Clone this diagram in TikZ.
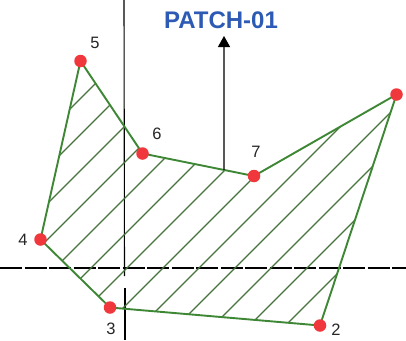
\documentclass[tikz,border=0pt]{standalone}
\usepackage{fontspec}
\setmainfont{Liberation Sans}
\usetikzlibrary{arrows.meta,calc}
\definecolor{edgegreen}{RGB}{62,135,52}
\definecolor{hatchgreen}{RGB}{70,115,60}
\definecolor{dotred}{RGB}{240,55,60}
\definecolor{titleblue}{RGB}{45,90,180}
\begin{document}
\begin{tikzpicture}[x=1pt,y=-1pt,
  vertex/.style={circle,fill=dotred,inner sep=0pt,minimum size=12.5pt},
  edge/.style={draw=edgegreen,line width=1.9pt,line join=round},
  hatch/.style={draw=hatchgreen,line width=1.1pt},
  axis/.style={draw=black,line width=1.1pt},
  num/.style={font=\fontsize{16.5}{16.5}\selectfont,text=black!85,inner sep=0pt},
  title/.style={font=\fontsize{24}{24}\selectfont\bfseries,text=titleblue,inner sep=0pt}]
\useasboundingbox[fill=white] (0,0) rectangle (406,340);
% axes
\coordinate (ha) at (0,268);
\coordinate (hb) at (406,268);
\coordinate (va) at (124,0);
\coordinate (vb) at (124.5,276);
\coordinate (vc) at (125,288);
\coordinate (vd) at (125,340);
\draw[axis,dash pattern=on 22pt off 2.5pt] (ha) -- (hb);
\draw[axis] (va) -- (vb);
\draw[axis] (vc) -- (vd);
% vertex positions
\coordinate (c1) at (396.5,94.5);
\coordinate (c2) at (320,325.5);
\coordinate (c3) at (110,307.5);
\coordinate (c4) at (40.5,239.5);
\coordinate (c5) at (80.5,61);
\coordinate (c6) at (142.5,153.5);
\coordinate (c7) at (254,176);
% hatching
\begin{scope}
\clip (c5) -- (c6) -- (c7) -- (c1) -- (c2) -- (c3) -- (c4) -- cycle;
\foreach \k in {-7,...,8}
  \draw[hatch] ({395+36*\k},0) -- ({395+36*\k-400},400);
\end{scope}
% outline
\draw[edge] (c5) -- (c6) -- (c7) -- (c1) -- (c2) -- (c3) -- (c4) -- cycle;
% arrow
\coordinate (abase) at ($(c6)!0.731!(c7)$);
\node[title] (title) at (221,20) {PATCH-01};
\coordinate (atip) at (224,36);
\draw[line width=1.3pt,-{Triangle[length=11pt,width=12pt]}] (abase) -- (atip);
% vertices
\foreach \i in {1,...,7} \node[vertex] (p\i) at (c\i) {};
% labels
\node[num] (l5) at (95,43) {5};
\node[num] (l6) at (157,134) {6};
\node[num] (l7) at (256,152) {7};
\node[num] (l4) at (23,240) {4};
\node[num] (l3) at (111,329) {3};
\node[num] (l2) at (336,330) {2};
\end{tikzpicture}
\end{document}
